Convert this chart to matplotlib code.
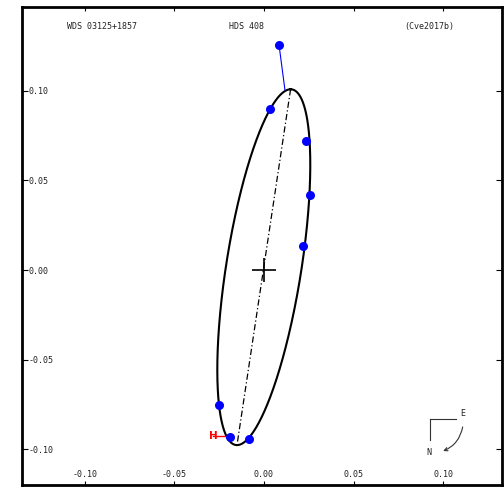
import numpy as np
import matplotlib
matplotlib.use("Agg")
import matplotlib.pyplot as plt
from matplotlib.patches import FancyArrowPatch

# apparent orbit (arcsec): centre plus the two conjugate semi-diameters
orbit_center = (-0.0001, 0.0016)
apsis_vec = (0.01494, 0.09916)
conj_vec = (0.02118, 0.0)

# measured positions (arcsec)
obs_x = [0.0084, 0.0036, 0.0234, 0.0254, 0.0217, -0.0248, -0.0192, -0.0084]
obs_y = [0.1254, 0.0897, 0.0719, 0.0418, 0.0134, -0.0753, -0.0931, -0.0942]
# computed positions at the same epochs
calc_x = [0.0117, 0.0040, 0.0240, 0.0250, 0.0214, -0.0244, -0.0190, -0.0086]
calc_y = [0.1003, 0.0893, 0.0719, 0.0418, 0.0134, -0.0753, -0.0928, -0.0938]

# Hipparcos measure and its computed position
hip_x = [-0.0284]
hip_y = [-0.0925]
hip_calc_x = [-0.0210]
hip_calc_y = [-0.0925]

ticks = [-0.10, -0.05, 0.00, 0.05, 0.10]
tick_labels = ["-0.10", "-0.05", "0.00", "0.05", "0.10"]

header_left = "WDS 03125+1857"
header_mid = "HDS 408"
header_right = "(Cve2017b)"

mono = "DejaVu Sans Mono"

fig = plt.figure(figsize=(5.04, 4.87), dpi=100)
ax = fig.add_axes([22 / 504, 2 / 487, 480 / 504, 478.5 / 487])
ax.set_xlim(-0.1349, 0.1327)
ax.set_ylim(-0.1198, 0.1469)

# orbit curve
t = np.linspace(0, 2 * np.pi, 721)
ex = orbit_center[0] + apsis_vec[0] * np.cos(t) + conj_vec[0] * np.sin(t)
ey = orbit_center[1] + apsis_vec[1] * np.cos(t) + conj_vec[1] * np.sin(t)
ax.plot(ex, ey, color="black", lw=1.5, zorder=2)

# line of apsides
ax.plot([orbit_center[0] + apsis_vec[0], orbit_center[0] - apsis_vec[0]],
        [orbit_center[1] + apsis_vec[1], orbit_center[1] - apsis_vec[1]],
        color="black", lw=0.9, linestyle=(0, (5, 2, 1, 2)), zorder=2)

# primary
ax.plot([0], [0], marker="+", markersize=17, markeredgewidth=1.2, color="black", zorder=3)

# residual lines O-C
for ox, oy, cx, cy in zip(obs_x, obs_y, calc_x, calc_y):
    ax.plot([ox, cx], [oy, cy], color="blue", lw=0.8, zorder=3)

for ox, oy, cx, cy in zip(hip_x, hip_y, hip_calc_x, hip_calc_y):
    ax.plot([ox, cx], [oy, cy], color="red", lw=1.0, zorder=3)
    ax.text(ox, oy, "H", color="red", fontsize=7.5, fontweight="bold",
            ha="center", va="center", family="DejaVu Sans", zorder=4)

ax.plot(obs_x, obs_y, "o", color="blue", markersize=6.5, markeredgewidth=0, zorder=4)

# header
for txt, xf in [(header_left, 0.167), (header_mid, 0.468), (header_right, 0.848)]:
    ax.text(xf, 0.958, txt, transform=ax.transAxes, ha="center", va="center",
            fontsize=6, family=mono, color="#222222")

# ticks inside the frame
ax.set_xticks(ticks)
ax.set_yticks(ticks)
ax.set_xticklabels(tick_labels, family=mono, fontsize=6, color="#222222")
ax.set_yticklabels(tick_labels, family=mono, fontsize=6, color="#222222", ha="left")
ax.tick_params(axis="x", direction="in", top=True, bottom=True, length=3, width=0.8,
               pad=-11)
ax.tick_params(axis="y", direction="in", left=True, right=True, length=4, width=0.8,
               pad=-5)
for spine in ax.spines.values():
    spine.set_linewidth(2)

# orientation sign
ax.plot([0.85, 0.904], [0.137, 0.137], color="#333333", lw=0.8, transform=ax.transAxes)
ax.plot([0.85, 0.85], [0.137, 0.095], color="#333333", lw=0.8, transform=ax.transAxes)
ax.text(0.918, 0.150, "E", transform=ax.transAxes, ha="center", va="center",
        fontsize=6, family=mono, color="#222222")
ax.text(0.848, 0.068, "N", transform=ax.transAxes, ha="center", va="center",
        fontsize=6, family=mono, color="#222222")
arrow = FancyArrowPatch((0.919, 0.127), (0.872, 0.069), transform=ax.transAxes,
                        connectionstyle="arc3,rad=-0.31", arrowstyle="->",
                        mutation_scale=6, lw=0.8, color="#333333")
ax.add_patch(arrow)

fig.savefig("out.png", dpi=100)
